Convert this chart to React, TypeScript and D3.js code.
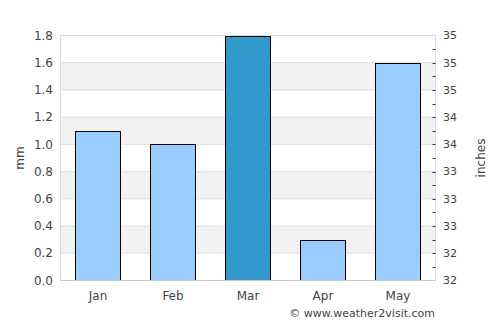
import { useEffect, useRef } from 'react';
import * as d3 from 'd3';

// monthly rainfall, mm
const months = ['Jan', 'Feb', 'Mar', 'Apr', 'May'];
const rainfall = [1.1, 1.0, 1.8, 0.3, 1.6];
const highlightMonth = 'Mar';

// left axis ticks (mm) and the odd inch labels shown on the right axis
const mmTicks = [0, 0.2, 0.4, 0.6, 0.8, 1.0, 1.2, 1.4, 1.6, 1.8];
const inchLabels = ['32', '32', '33', '33', '33', '34', '34', '35', '35', '35'];

const W = 500;
const H = 325;
const PAD = { top: 35.5, right: 64.5, bottom: 44.5, left: 60.5 };
const FONT = '"DejaVu Sans", sans-serif';

export default function App() {
  const svgRef = useRef<SVGSVGElement>(null);

  useEffect(() => {
    if (!svgRef.current) return;
    const svg = d3.select(svgRef.current);
    svg.selectAll('*').remove();

    const x0 = PAD.left;
    const x1 = W - PAD.right;
    const y0 = H - PAD.bottom;
    const y1 = PAD.top;

    const x = d3.scaleBand<string>().domain(months).range([x0, x1]).paddingInner(0.4).paddingOuter(0.2);
    const y = d3.scaleLinear().domain([0, 1.8]).range([y0, y1]);

    // alternating bands
    for (let i = 1; i < mmTicks.length - 1; i += 2) {
      svg.append('rect')
        .attr('x', x0)
        .attr('y', y(mmTicks[i + 1]))
        .attr('width', x1 - x0)
        .attr('height', y(mmTicks[i]) - y(mmTicks[i + 1]))
        .attr('fill', '#f2f2f2');
    }

    // gridlines
    mmTicks.forEach((t) => {
      svg.append('line')
        .attr('x1', x0).attr('x2', x1)
        .attr('y1', y(t)).attr('y2', y(t))
        .attr('stroke', '#dddddd');
    });
    // frame sides
    [x0, x1].forEach((xx) => {
      svg.append('line')
        .attr('x1', xx).attr('x2', xx)
        .attr('y1', y1).attr('y2', y0)
        .attr('stroke', '#dddddd');
    });

    // bars
    months.forEach((m, i) => {
      const top = Math.round(y(rainfall[i])) + 0.5;
      svg.append('rect')
        .attr('x', Math.floor(x(m)!) + 0.5)
        .attr('y', top)
        .attr('width', Math.round(x.bandwidth()))
        .attr('height', y(0) - top)
        .attr('fill', m === highlightMonth ? '#3399cc' : '#99ccff')
        .attr('stroke', '#000')
        .attr('stroke-width', 1);
    });
    // baseline on top
    svg.append('line')
      .attr('x1', x0).attr('x2', x1)
      .attr('y1', y0).attr('y2', y0)
      .attr('stroke', '#cccccc');

    // left tick labels
    mmTicks.forEach((t) => {
      svg.append('text')
        .attr('x', 53)
        .attr('y', y(t))
        .attr('dy', '0.35em')
        .attr('text-anchor', 'end')
        .attr('font-family', FONT)
        .attr('font-size', 12)
        .attr('fill', '#444')
        .text(t.toFixed(1));
    });

    // right ticks: labelled at each gridline, plus a minor tick in between
    mmTicks.forEach((t, i) => {
      svg.append('text')
        .attr('x', 443)
        .attr('y', y(t))
        .attr('dy', '0.35em')
        .attr('font-family', FONT)
        .attr('font-size', 11)
        .attr('fill', '#444')
        .text(inchLabels[i]);
      const marks = i < mmTicks.length - 1 ? [t, t + 0.1] : [];
      marks.forEach((v) => {
        if (v === 0) return;
        svg.append('line')
          .attr('x1', x1 - 3).attr('x2', x1)
          .attr('y1', Math.round(y(v)) + 0.5).attr('y2', Math.round(y(v)) + 0.5)
          .attr('stroke', '#333');
      });
    });

    // month labels
    months.forEach((m) => {
      svg.append('text')
        .attr('x', x(m)! + x.bandwidth() / 2)
        .attr('y', 296)
        .attr('dy', '0.35em')
        .attr('text-anchor', 'middle')
        .attr('font-family', FONT)
        .attr('font-size', 12)
        .attr('fill', '#444')
        .text(m);
    });

    // axis titles
    svg.append('text')
      .attr('transform', `translate(20,${(y0 + y1) / 2}) rotate(-90)`)
      .attr('dy', '0.35em')
      .attr('text-anchor', 'middle')
      .attr('font-family', FONT)
      .attr('font-size', 12)
      .attr('fill', '#444')
      .text('mm');
    svg.append('text')
      .attr('transform', `translate(481,${(y0 + y1) / 2}) rotate(-90)`)
      .attr('dy', '0.35em')
      .attr('text-anchor', 'middle')
      .attr('font-family', FONT)
      .attr('font-size', 12)
      .attr('fill', '#444')
      .text('inches');

    svg.append('text')
      .attr('x', 435)
      .attr('y', 313)
      .attr('dy', '0.35em')
      .attr('text-anchor', 'end')
      .attr('font-family', FONT)
      .attr('font-size', 11)
      .attr('fill', '#444')
      .text('© www.weather2visit.com');
  }, []);

  return (
    <>
      <style>{'body{margin:0}'}</style>
      <svg ref={svgRef} width={W} height={H} style={{ display: 'block', background: '#fff' }} />
    </>
  );
}
